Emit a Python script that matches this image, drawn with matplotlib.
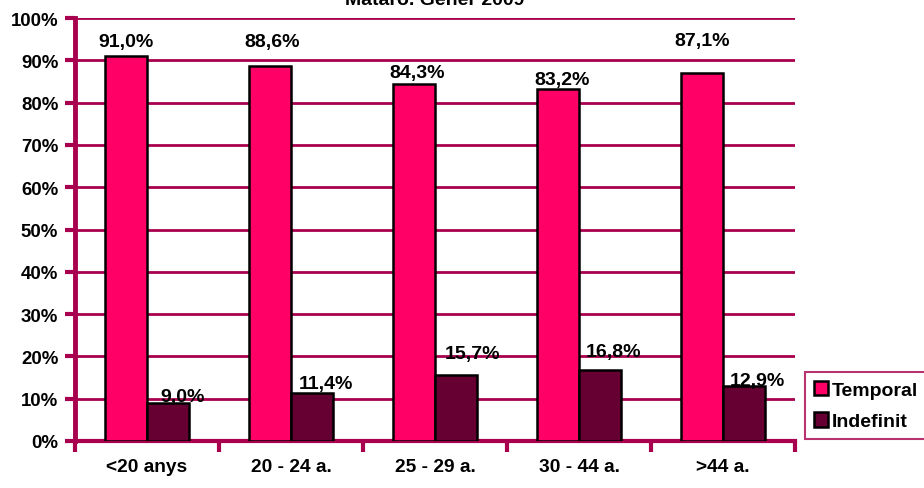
import matplotlib.pyplot as plt
import numpy as np

plt.rcParams['font.family'] = ['Liberation Sans', 'DejaVu Sans']
plt.rcParams['font.weight'] = 'bold'

categories = ['<20 anys', '20 - 24 a.', '25 - 29 a.', '30 - 44 a.', '>44 a.']
temporal = [91.0, 88.6, 84.3, 83.2, 87.1]
indefinit = [9.0, 11.4, 15.7, 16.8, 12.9]
series_names = ['Temporal', 'Indefinit']
title = 'Mataró. Gener 2009'

# label offsets in pixels (x, y) from bar top centre
temp_off = [(0, 15), (2, 25), (3, 12), (4, 10), (0, 32)]
indef_off = [(15, 6), (14, 9), (16, 21), (13, 18), (13, 6)]

axcol = '#A8004E'
pink = '#FF0066'
dark = '#660033'

fig = plt.figure(figsize=(9.24, 4.89), dpi=100)
ax = fig.add_axes([75/924, 1-442/489, 720/924, 423/489])

x = np.arange(len(categories))
w = 42/144
b1 = ax.bar(x - w/2, temporal, w, color=pink, edgecolor='black', linewidth=1.8, label=series_names[0], zorder=3)
b2 = ax.bar(x + w/2, indefinit, w, color=dark, edgecolor='black', linewidth=1.8, label=series_names[1], zorder=3)

def fmt(v):
    return ('%.1f%%' % v).replace('.', ',')

for i, v in enumerate(temporal):
    ax.annotate(fmt(v), (x[i] - w/2, v), xytext=temp_off[i], textcoords='offset pixels',
                ha='center', va='center', fontsize=14, fontweight='bold')
for i, v in enumerate(indefinit):
    ax.annotate(fmt(v), (x[i] + w/2, v), xytext=indef_off[i], textcoords='offset pixels',
                ha='center', va='center', fontsize=14, fontweight='bold')

ax.set_xlim(-0.5, len(categories) - 0.5)
ax.set_ylim(0, 100)
ax.set_yticks(np.arange(0, 101, 10))
ax.set_yticklabels(['%d%%' % t for t in range(0, 101, 10)], fontsize=13.4, fontweight='bold')
ax.yaxis.grid(True, color=axcol, linewidth=2, zorder=0)
ax.set_axisbelow(True)

ax.set_xticks(np.arange(-0.5, len(categories), 1))
ax.set_xticklabels([])
ax.set_xticks(x, minor=True)
ax.set_xticklabels(categories, minor=True, fontsize=13.8, fontweight='bold')
ax.tick_params(axis='x', which='minor', length=0, pad=12)
ax.tick_params(axis='x', which='major', length=8, width=3, color=axcol)
ax.tick_params(axis='y', length=7, width=3, color=axcol, pad=5)

for s in ['top', 'right']:
    ax.spines[s].set_visible(False)
ax.spines['left'].set_color(axcol)
ax.spines['left'].set_linewidth(3.5)
ax.spines['bottom'].set_color(axcol)
ax.spines['bottom'].set_linewidth(3)

leg = fig.legend(handles=[b1, b2], loc='upper left', bbox_to_anchor=(805/924, 1-373/489),
                 frameon=True, fancybox=False, fontsize=14, handlelength=0.75, handleheight=0.75,
                 handletextpad=0.2, borderpad=0.45, labelspacing=0.7, borderaxespad=0)
leg.get_frame().set_edgecolor(axcol)
leg.get_frame().set_linewidth(1.5)
for t in leg.get_texts():
    t.set_fontweight('bold')

fig.text(435/924, 1-5/489, title, ha='center', va='baseline', fontsize=14, fontweight='bold')

fig.savefig('out.png', dpi=100)
